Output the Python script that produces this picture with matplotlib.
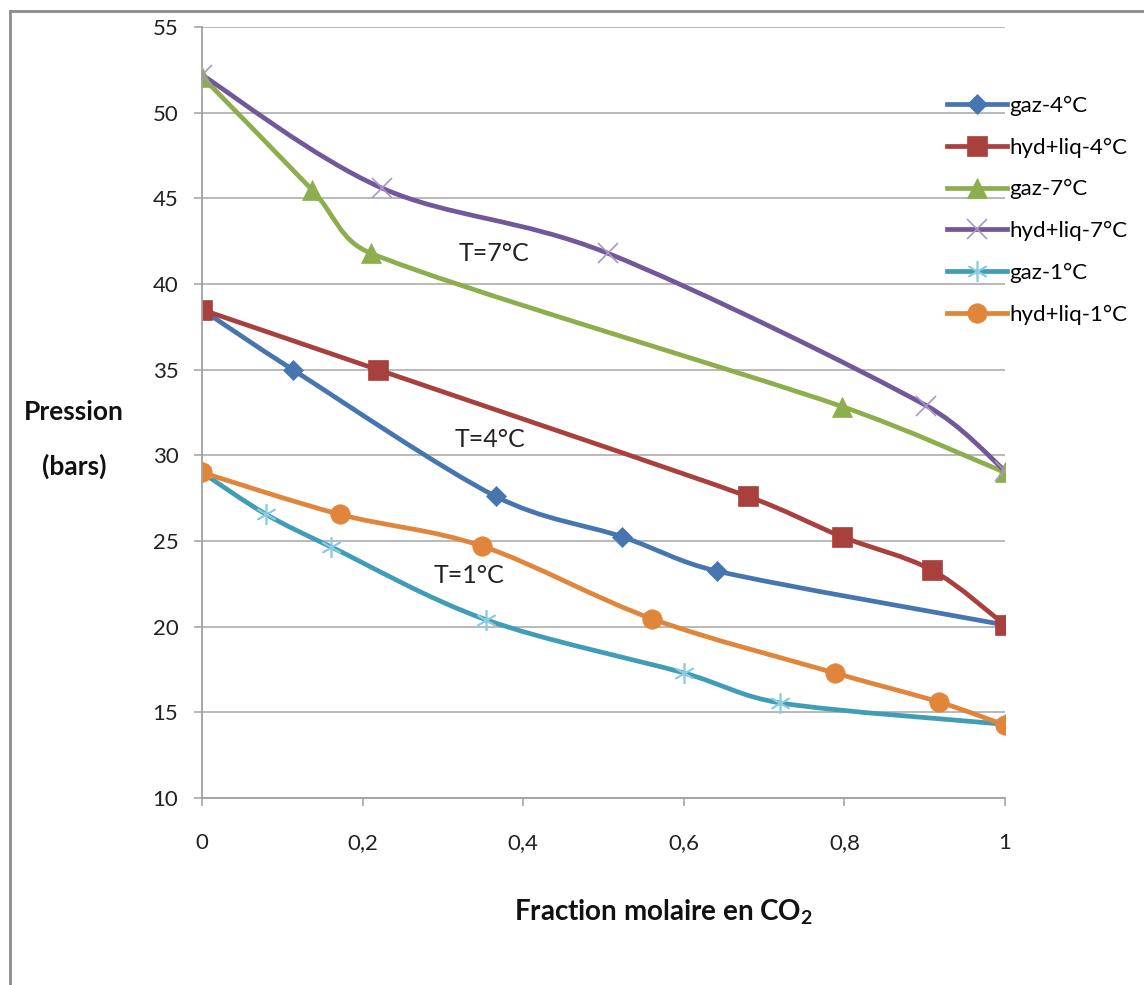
import numpy as np
import matplotlib
matplotlib.use('Agg')
import matplotlib.pyplot as plt
from matplotlib.path import Path
from matplotlib.patches import PathPatch
from matplotlib.lines import Line2D

plt.rcParams['font.family'] = ['Lato', 'DejaVu Sans']
plt.rcParams['mathtext.fontset'] = 'custom'
plt.rcParams['mathtext.rm'] = 'Lato'
plt.rcParams['mathtext.bf'] = 'Lato:bold'

# data
x_gaz4 = [0, 0.113, 0.366, 0.523, 0.641, 1]
y_gaz4 = [38.5, 35.0, 27.6, 25.25, 23.25, 20.1]
x_liq4 = [0, 0.219, 0.680, 0.797, 0.909, 1]
y_liq4 = [38.5, 35.0, 27.6, 25.25, 23.3, 20.1]
x_gaz7 = [0, 0.137, 0.210, 0.797, 1]
y_gaz7 = [52.1, 45.5, 41.8, 32.85, 29.0]
x_liq7 = [0, 0.224, 0.505, 0.902, 1]
y_liq7 = [52.2, 45.6, 41.8, 32.9, 29.1]
x_gaz1 = [0, 0.080, 0.161, 0.354, 0.600, 0.720, 1]
y_gaz1 = [29.0, 26.55, 24.65, 20.4, 17.3, 15.55, 14.3]
x_liq1 = [0, 0.172, 0.349, 0.561, 0.788, 0.918, 1]
y_liq1 = [29.0, 26.55, 24.7, 20.45, 17.3, 15.6, 14.25]

labels = ['gaz-4°C', 'hyd+liq-4°C', 'gaz-7°C', 'hyd+liq-7°C', 'gaz-1°C', 'hyd+liq-1°C']
line_colors = ['#4675b0', '#a8413e', '#8cae4c', '#71589a', '#3f9db6', '#e0853a']
marker_colors = ['#4675b0', '#a8413e', '#8cae4c', '#a896c6', '#8ccbe0', '#e0853a']
markers = ['D', 's', '^', 'x', (6, 2, 0), 'o']
marker_sizes = [10, 14, 14, 14, 15, 14]
series = [(x_gaz4, y_gaz4), (x_liq4, y_liq4), (x_gaz7, y_gaz7),
          (x_liq7, y_liq7), (x_gaz1, y_gaz1), (x_liq1, y_liq1)]

# pixels per data unit in the plot area (used so the smoothing works on screen shape)
SX = 803 / 1.0
SY = 771 / 45.0


def smooth_path(xs, ys, limit=0.4):
    # excel style smoothed line: cubic bezier through the points,
    # control arms clamped so the curve does not loop back
    pts = np.column_stack([np.asarray(xs) * SX, np.asarray(ys) * SY])
    n = len(pts)
    verts = [pts[0]]
    codes = [Path.MOVETO]
    for i in range(n - 1):
        p0 = pts[i - 1] if i > 0 else pts[i]
        p1 = pts[i]
        p2 = pts[i + 1]
        p3 = pts[i + 2] if i + 2 < n else pts[i + 1]
        seg = np.hypot(*(p2 - p1))
        t1 = (p2 - p0) / 6.0
        t2 = (p3 - p1) / 6.0
        for t in (t1, t2):
            ln = np.hypot(*t)
            if ln > seg * limit:
                t *= seg * limit / ln
        verts += [p1 + t1, p2 - t2, p2]
        codes += [Path.CURVE4] * 3
    verts = np.array(verts) / [SX, SY]
    return Path(verts, codes)


fig = plt.figure(figsize=(11.44, 9.85), dpi=100)
ax = fig.add_axes([202 / 1144, 1 - 798 / 985, 803 / 1144, 771 / 985])

for (xs, ys), lab, lc, mc, mk, ms in zip(series, labels, line_colors,
                                         marker_colors, markers, marker_sizes):
    patch = PathPatch(smooth_path(xs, ys), facecolor='none', edgecolor=lc,
                      lw=3.4, capstyle='round', joinstyle='round')
    ax.add_patch(patch)
    thin = mk == 'x' or isinstance(mk, tuple)
    ax.plot(xs, ys, linestyle='none', marker=mk, ms=ms, color=mc,
            mec=mc, mew=1.2 if thin else 0.5)

ax.set_xlim(0, 1)
ax.set_ylim(10, 55)
ax.set_xticks([0, 0.2, 0.4, 0.6, 0.8, 1])
ax.set_xticklabels(['0', '0,2', '0,4', '0,6', '0,8', '1'])
ax.set_yticks(range(10, 56, 5))
ax.yaxis.grid(True, color='#a6a6a6', lw=1.1)
ax.set_axisbelow(True)
for s in ['top', 'right']:
    ax.spines[s].set_visible(False)
for s in ['left', 'bottom']:
    ax.spines[s].set_color('#a0a0a0')
    ax.spines[s].set_linewidth(1.3)
ax.tick_params(axis='both', colors='#a0a0a0', labelcolor='#222222',
               labelsize=16, length=6, width=1.1)
ax.tick_params(axis='x', pad=19)
ax.tick_params(axis='y', pad=11)

ax.text(0.319, 41.8, 'T=7°C', fontsize=18, va='center', ha='left', color='#222222')
ax.text(0.315, 30.9, 'T=4°C', fontsize=18, va='center', ha='left', color='#222222')
ax.text(0.288, 23.0, 'T=1°C', fontsize=18, va='center', ha='left', color='#222222')

handles = [Line2D([], [], color=lc, lw=3.4, marker=mk, ms=ms, mfc=mc, mec=mc,
                  mew=1.2 if (mk == 'x' or isinstance(mk, tuple)) else 0.5)
           for lc, mc, mk, ms in zip(line_colors, marker_colors, markers, marker_sizes)]
fig.legend(handles, labels, loc='upper left', bbox_to_anchor=(938 / 1144, 1 - 87 / 985),
           frameon=False, fontsize=16, handlelength=2.7, handletextpad=0.1,
           labelspacing=0.97, borderaxespad=0)

fig.text(74 / 1144, 1 - 412 / 985, 'Pression', fontsize=19, fontweight='bold',
         ha='center', va='center', color='#111111')
fig.text(74 / 1144, 1 - 466 / 985, '(bars)', fontsize=19, fontweight='bold',
         ha='center', va='center', color='#111111')
fig.text(663 / 1144, 1 - 912 / 985, r'Fraction molaire en CO$_\mathbf{2}$', fontsize=20,
         fontweight='bold', ha='center', va='center', color='#111111')

# outer frame of the chart
fig.add_artist(Line2D([10 / 1144, 10 / 1144], [0, 1 - 11 / 985],
                      transform=fig.transFigure, color='#8c8c8c', lw=2))
fig.add_artist(Line2D([10 / 1144, 1], [1 - 11 / 985, 1 - 11 / 985],
                      transform=fig.transFigure, color='#8c8c8c', lw=2))

fig.savefig('out.png', dpi=100)
